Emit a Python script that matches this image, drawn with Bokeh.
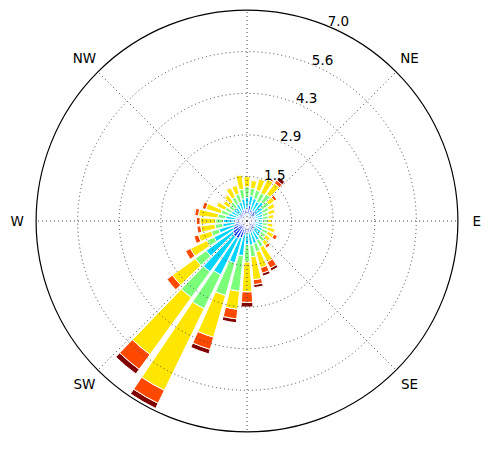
import numpy as np
from bokeh.plotting import figure
from bokeh.models import ColumnDataSource, Range1d
from bokeh.embed import file_html
from bokeh.resources import INLINE
from bokeh.core.properties import value

# ---------------- data (percent frequency per direction sector and speed bin) ----------------
directions = [0, 10, 20, 30, 40, 50, 60, 70, 80, 90, 100, 110, 120, 130, 140, 150, 160, 170,
              180, 190, 200, 210, 220, 230, 240, 250, 260, 270, 280, 290, 300, 310, 320, 330, 340, 350]

bin0 = [0.13, 0.13, 0.13, 0.13, 0.13, 0.13, 0.10, 0.10, 0.10, 0.10, 0.10, 0.10, 0.10, 0.10, 0.10, 0.13, 0.13, 0.13,
        0.16, 0.16, 0.16, 0.16, 0.16, 0.16, 0.16, 0.13, 0.13, 0.13, 0.13, 0.13, 0.10, 0.10, 0.10, 0.10, 0.13, 0.13]
bin1 = [0.26, 0.39, 0.26, 0.23, 0.26, 0.19, 0.19, 0.16, 0.16, 0.16, 0.16, 0.16, 0.19, 0.19, 0.23, 0.23, 0.26, 0.26,
        0.23, 0.29, 0.42, 0.48, 0.48, 0.42, 0.35, 0.32, 0.26, 0.26, 0.23, 0.19, 0.19, 0.19, 0.19, 0.23, 0.23, 0.26]
bin2 = [0.39, 0.32, 0.39, 0.35, 0.39, 0.32, 0.29, 0.29, 0.26, 0.26, 0.26, 0.29, 0.29, 0.29, 0.29, 0.35, 0.39, 0.42,
        0.39, 0.71, 0.87, 1.35, 1.45, 1.10, 0.71, 0.52, 0.42, 0.39, 0.35, 0.32, 0.29, 0.26, 0.26, 0.29, 0.29, 0.35]
bin3 = [0.35, 0.26, 0.29, 0.32, 0.32, 0.26, 0.23, 0.19, 0.19, 0.16, 0.16, 0.16, 0.19, 0.19, 0.23, 0.26, 0.29, 0.39,
        0.58, 1.19, 1.13, 1.26, 1.06, 0.45, 0.26, 0.26, 0.26, 0.26, 0.26, 0.26, 0.23, 0.19, 0.23, 0.26, 0.29, 0.32]
bin4 = [0.35, 0.26, 0.39, 0.52, 0.45, 0.23, 0.23, 0.23, 0.19, 0.16, 0.19, 0.26, 0.23, 0.19, 0.16, 0.55, 0.55, 0.77,
        1.00, 0.61, 1.45, 3.03, 2.35, 0.94, 0.61, 0.45, 0.48, 0.52, 0.65, 0.52, 0.32, 0.23, 0.29, 0.35, 0.29, 0.48]
bin5 = [0.00, 0.03, 0.03, 0.06, 0.13, 0.10, 0.03, 0.03, 0.00, 0.00, 0.03, 0.03, 0.13, 0.03, 0.10, 0.23, 0.19, 0.16,
        0.35, 0.32, 0.42, 0.48, 0.61, 0.23, 0.19, 0.16, 0.13, 0.13, 0.13, 0.13, 0.03, 0.03, 0.03, 0.03, 0.03, 0.03]
bin6 = [0.00, 0.00, 0.00, 0.00, 0.13, 0.00, 0.00, 0.00, 0.00, 0.00, 0.00, 0.00, 0.00, 0.00, 0.00, 0.10, 0.10, 0.10,
        0.16, 0.13, 0.16, 0.19, 0.19, 0.00, 0.00, 0.00, 0.00, 0.03, 0.03, 0.03, 0.00, 0.00, 0.00, 0.00, 0.00, 0.00]

bin_colors = ["#000080", "#002bff", "#00d4ff", "#7bff7b", "#ffe600", "#ff4800", "#800000"]

ring_values = [1.486, 2.872, 4.258, 5.644, 7.03]
ring_labels = ["1.5", "2.9", "4.3", "5.6", "7.0"]
rmax = 7.03

compass_labels = ["E", "NE", "NW", "W", "SW", "SE"]
compass_bearings = [90, 45, 315, 270, 225, 135]
grid_bearings = [0, 45, 90, 135, 180, 225, 270, 315]

opening = 0.8
sector = 10.0
FONT = "DejaVu Sans"

# ---------------- figure ----------------
W, H = 483, 443
PX = 30.0            # pixels per percent
cx, cy = 246.5, 220.5  # centre in canvas pixels
p = figure(width=W, height=H, output_backend="svg", toolbar_location=None,
           x_axis_type=None, y_axis_type=None,
           x_range=Range1d(-cx / PX, (W - cx) / PX), y_range=Range1d(-(H - cy) / PX, cy / PX),
           min_border=0, outline_line_color=None, background_fill_color="white")
p.grid.visible = False

# ---------------- stacked bars ----------------
bins = [bin0, bin1, bin2, bin3, bin4, bin5, bin6]
arr = np.array(bins, dtype=float)
bottoms = np.vstack([np.zeros(arr.shape[1]), np.cumsum(arr, axis=0)[:-1]])
dirs = np.array(directions, dtype=float)
half = opening * sector / 2.0
start = np.radians(90.0 - dirs - half)
end = np.radians(90.0 - dirs + half)

for i in range(len(bins) - 1, -1, -1):
    m = arr[i] > 0
    src = ColumnDataSource(dict(inner=bottoms[i][m], outer=(bottoms[i] + arr[i])[m],
                                start=start[m], end=end[m]))
    p.annular_wedge(x=0, y=0, inner_radius="inner", outer_radius="outer",
                    start_angle="start", end_angle="end", source=src,
                    fill_color=bin_colors[i], line_color="white", line_width=1)

# ---------------- grid ----------------
p.circle(x=0, y=0, radius=ring_values[:-1], fill_color=None, line_color="#444444",
         line_dash="1 3", line_width=1)
ga = np.radians(90.0 - np.array(grid_bearings, dtype=float))
p.segment(x0=0, y0=0, x1=rmax * np.cos(ga), y1=rmax * np.sin(ga),
          line_color="#444444", line_dash="1 3", line_width=1)
p.circle(x=0, y=0, radius=rmax, fill_color=None, line_color="black", line_width=1.2)

# radial labels
ra = np.radians(67.5)
rv = np.array(ring_values)
p.text(x=rv * np.cos(ra), y=rv * np.sin(ra), text=ring_labels,
       text_font=value(FONT), text_font_size="13.5px", text_color="black",
       text_align="left", text_baseline="bottom")

# compass labels
ca = np.radians(90.0 - np.array(compass_bearings, dtype=float))
lr = rmax * 1.09
p.text(x=lr * np.cos(ca), y=lr * np.sin(ca), text=compass_labels,
       text_font=value(FONT), text_font_size="13.5px", text_color="black",
       text_align="center", text_baseline="middle")

open("out.html", "w").write(file_html(p, INLINE))
